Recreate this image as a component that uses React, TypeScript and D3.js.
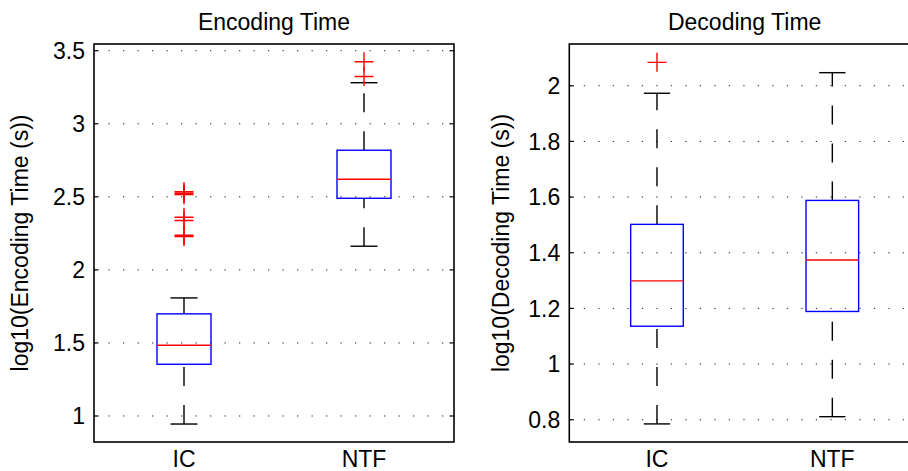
import React from "react";
import * as d3 from "d3";

const categories = ["IC", "NTF"];

// Encoding time (log10 seconds)
const encWhiskerLow = [0.945, 2.162];
const encQ1 = [1.354, 2.49];
const encMedian = [1.484, 2.62];
const encQ3 = [1.699, 2.819];
const encWhiskerHigh = [1.808, 3.281];
const encOutliers = [
  [2.535, 2.525, 2.515, 2.36, 2.338, 2.237, 2.228],
  [3.425, 3.324],
];
const encTicks = [1, 1.5, 2, 2.5, 3, 3.5];

// Decoding time (log10 seconds)
const decWhiskerLow = [0.785, 0.811];
const decQ1 = [1.136, 1.189];
const decMedian = [1.299, 1.374];
const decQ3 = [1.502, 1.588];
const decWhiskerHigh = [1.973, 2.047];
const decOutliers = [[2.084], []];
const decTicks = [0.8, 1, 1.2, 1.4, 1.6, 1.8, 2];

const FONT = "'Liberation Sans', Arial, Helvetica, sans-serif";
const FS = 23;

type PanelProps = {
  title: string;
  ylabel: string;
  left: number;
  right: number;
  top: number;
  bottom: number;
  yDomain: [number, number];
  ticks: number[];
  lo: number[];
  q1: number[];
  med: number[];
  q3: number[];
  hi: number[];
  out: number[][];
  ylabelX: number;
};

function Panel(p: PanelProps) {
  const x = d3.scaleLinear().domain([0.5, 2.5]).range([p.left, p.right]);
  const y = d3.scaleLinear().domain(p.yDomain).range([p.bottom, p.top]);
  const bw = 0.15;
  const cw = 0.075;
  const ph = 9.5;
  const cy = (p.top + p.bottom) / 2;
  return (
    <g>
      {p.ticks.map((t) => (
        <line
          key={"g" + t}
          x1={p.left}
          x2={p.right}
          y1={y(t)}
          y2={y(t)}
          stroke="#222"
          strokeWidth={1}
          strokeDasharray="1.3,13.2"
        />
      ))}
      {p.ticks.map((t) => (
        <g key={"t" + t}>
          <line x1={p.left} x2={p.left + 4.5} y1={y(t)} y2={y(t)} stroke="#000" strokeWidth={1.2} />
          <line x1={p.right} x2={p.right - 4.5} y1={y(t)} y2={y(t)} stroke="#000" strokeWidth={1.2} />
          <text
            x={p.left - 9}
            y={y(t)}
            dy="0.36em"
            textAnchor="end"
            fontFamily={FONT}
            fontSize={FS}
            fill="#000"
          >
            {String(t)}
          </text>
        </g>
      ))}
      {categories.map((c, i) => {
        const cx = x(i + 1);
        return (
          <g key={c}>
            <path
              d={`M${cx},${y(p.lo[i])}L${cx},${y(p.q1[i])}`}
              stroke="#000"
              strokeWidth={1.4}
              strokeDasharray="19,19"
              fill="none"
            />
            <path
              d={`M${cx},${y(p.q3[i])}L${cx},${y(p.hi[i])}`}
              stroke="#000"
              strokeWidth={1.4}
              strokeDasharray="19,19"
              fill="none"
            />
            <line x1={x(i + 1 - cw)} x2={x(i + 1 + cw)} y1={y(p.lo[i])} y2={y(p.lo[i])} stroke="#000" strokeWidth={1.4} />
            <line x1={x(i + 1 - cw)} x2={x(i + 1 + cw)} y1={y(p.hi[i])} y2={y(p.hi[i])} stroke="#000" strokeWidth={1.4} />
            <rect
              x={x(i + 1 - bw)}
              y={y(p.q3[i])}
              width={x(i + 1 + bw) - x(i + 1 - bw)}
              height={y(p.q1[i]) - y(p.q3[i])}
              fill="none"
              stroke="#0000ff"
              strokeWidth={1.4}
            />
            <line x1={x(i + 1 - bw)} x2={x(i + 1 + bw)} y1={y(p.med[i])} y2={y(p.med[i])} stroke="#ff0000" strokeWidth={1.4} />
            {p.out[i].map((v, k) => (
              <path
                key={k}
                d={`M${cx - ph},${y(v)}L${cx + ph},${y(v)}M${cx},${y(v) - ph}L${cx},${y(v) + ph}`}
                stroke="#ff0000"
                strokeWidth={1.4}
                fill="none"
              />
            ))}
            <text x={cx} y={467} textAnchor="middle" fontFamily={FONT} fontSize={FS} fill="#000">
              {c}
            </text>
          </g>
        );
      })}
      <rect
        x={p.left}
        y={p.top}
        width={p.right - p.left}
        height={p.bottom - p.top}
        fill="none"
        stroke="#000"
        strokeWidth={1.6}
      />
      <text
        x={(p.left + p.right) / 2}
        y={30}
        textAnchor="middle"
        fontFamily={FONT}
        fontSize={FS}
        fill="#000"
      >
        {p.title}
      </text>
      <text
        transform={`translate(${p.ylabelX},${cy}) rotate(-90)`}
        textAnchor="middle"
        fontFamily={FONT}
        fontSize={FS}
        fill="#000"
      >
        {p.ylabel}
      </text>
    </g>
  );
}

export default function App() {
  return (
    <svg
      width={908}
      height={471}
      style={{ position: "absolute", left: 0, top: 0, background: "#fff" }}
    >
      <rect x={0} y={0} width={908} height={471} fill="#fff" />
      <Panel
        title="Encoding Time"
        ylabel="log10(Encoding Time (s))"
        left={94}
        right={454}
        top={44}
        bottom={442}
        yDomain={[0.822, 3.546]}
        ticks={encTicks}
        lo={encWhiskerLow}
        q1={encQ1}
        med={encMedian}
        q3={encQ3}
        hi={encWhiskerHigh}
        out={encOutliers}
        ylabelX={28}
      />
      <Panel
        title="Decoding Time"
        ylabel="log10(Decoding Time (s))"
        left={569.3}
        right={920}
        top={44}
        bottom={442}
        yDomain={[0.72, 2.15]}
        ticks={decTicks}
        lo={decWhiskerLow}
        q1={decQ1}
        med={decMedian}
        q3={decQ3}
        hi={decWhiskerHigh}
        out={decOutliers}
        ylabelX={509}
      />
    </svg>
  );
}
